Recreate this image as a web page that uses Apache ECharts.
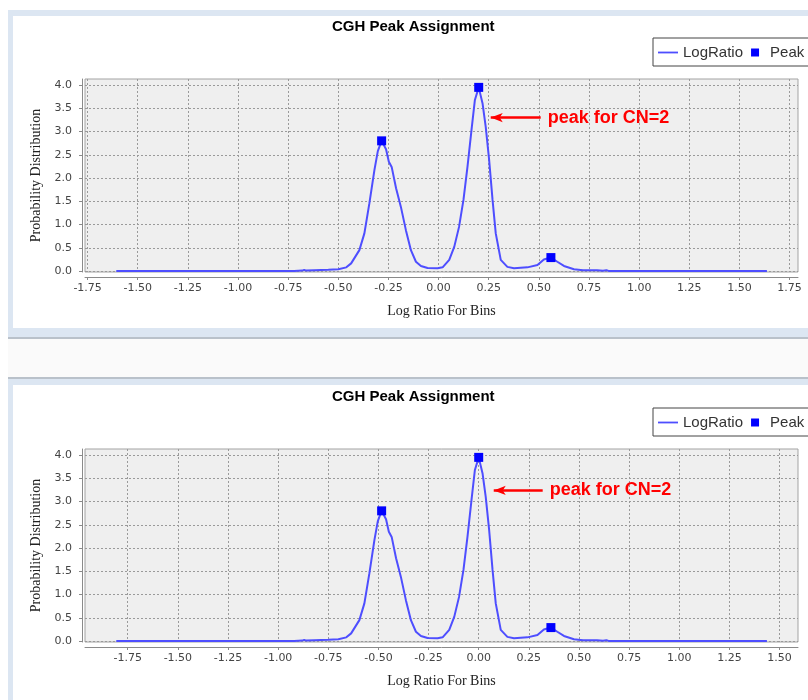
<!DOCTYPE html>
<html><head><meta charset="utf-8">
<script src="https://cdn.jsdelivr.net/npm/echarts@6/dist/echarts.min.js"></script>
<style>html,body{margin:0;padding:0;background:#fff;}#c{width:808px;height:700px;}</style>
</head><body><div id="c"></div><script>
// ---- data ----
const topX = [-1.607,-0.720,-0.680,-0.670,-0.660,-0.620,-0.550,-0.500,-0.460,-0.436,-0.395,-0.370,-0.345,-0.320,-0.303,-0.284,-0.262,-0.248,-0.234,-0.212,-0.188,-0.163,-0.138,-0.113,-0.088,-0.055,-0.005,0.020,0.053,0.078,0.102,0.124,0.144,0.164,0.181,0.200,0.219,0.235,0.252,0.269,0.285,0.310,0.343,0.376,0.443,0.493,0.525,0.560,0.592,0.625,0.675,0.720,0.790,0.820,0.837,0.850,1.637];
const bottomX = [-1.807,-0.920,-0.880,-0.870,-0.860,-0.820,-0.750,-0.700,-0.660,-0.636,-0.595,-0.570,-0.545,-0.520,-0.503,-0.484,-0.462,-0.448,-0.434,-0.412,-0.388,-0.363,-0.338,-0.313,-0.288,-0.255,-0.205,-0.180,-0.147,-0.122,-0.098,-0.076,-0.056,-0.036,-0.019,0.000,0.019,0.035,0.052,0.069,0.085,0.110,0.143,0.176,0.243,0.293,0.325,0.360,0.392,0.425,0.475,0.520,0.590,0.620,0.637,0.650,1.437];
const density = [0,0,0.01,0.025,0.01,0.02,0.03,0.04,0.08,0.165,0.45,0.81,1.46,2.17,2.58,2.80,2.62,2.35,2.24,1.78,1.38,0.88,0.45,0.20,0.11,0.065,0.06,0.08,0.24,0.52,0.95,1.53,2.24,3.03,3.68,3.95,3.61,3.10,2.39,1.53,0.81,0.24,0.09,0.06,0.08,0.13,0.25,0.29,0.20,0.11,0.04,0.02,0.02,0.005,0.02,0,0];
const topPeakX = [-0.284, 0.200, 0.560];
const bottomPeakX = [-0.484, 0.000, 0.360];
const peakY = [2.80, 3.95, 0.29];
const topXTicks = [-1.75,-1.5,-1.25,-1,-0.75,-0.5,-0.25,0,0.25,0.5,0.75,1,1.25,1.5,1.75];
const bottomXTicks = [-1.75,-1.5,-1.25,-1,-0.75,-0.5,-0.25,0,0.25,0.5,0.75,1,1.25,1.5];
const yTicks = [0,0.5,1,1.5,2,2.5,3,3.5,4];
const topArrow = [[0.509, 3.30],[0.260, 3.30]];
const bottomArrow = [[0.319, 3.24],[0.075, 3.24]];
const titleText = 'CGH Peak Assignment';
const annotText = 'peak for CN=2';
const legendNames = ['LogRatio','Peak'];

const chart = echarts.init(document.getElementById('c'), null, {renderer:'canvas'});
const LINE_C = '#4e4eff';
function xAxisOpt(i, min, max, ticks){
  return {gridIndex:i, type:'value', min:min, max:max, offset:5,
    axisLine:{show:true, onZero:false, lineStyle:{color:'#8a8a8a', width:1}},
    axisTick:{show:true, length:3, customValues:ticks, lineStyle:{color:'#8a8a8a'}},
    axisLabel:{customValues:ticks, formatter:v=>Number(v).toFixed(2), margin:6, fontFamily:'DejaVu Sans', fontSize:11, color:'#444'},
    splitLine:{show:true, lineStyle:{color:'#9a9a9a', type:[2,2], width:1}},
    name:'Log Ratio For Bins', nameLocation:'middle', nameGap:27,
    nameTextStyle:{fontFamily:'Liberation Serif', fontSize:14, color:'#222'}};
}
function yAxisOpt(i){
  return {gridIndex:i, type:'value', min:-0.02, max:4.13, offset:3,
    axisLine:{show:true, onZero:false, lineStyle:{color:'#8a8a8a', width:1}},
    axisTick:{show:true, length:3, customValues:yTicks, lineStyle:{color:'#8a8a8a'}},
    axisLabel:{customValues:yTicks, formatter:v=>Number(v).toFixed(1), margin:10, fontFamily:'DejaVu Sans', fontSize:11, color:'#444'},
    splitLine:{show:true, lineStyle:{color:'#9a9a9a', type:[2,2], width:1}},
    name:'Probability Distribution', nameLocation:'middle', nameGap:38,
    nameTextStyle:{fontFamily:'Liberation Serif', fontSize:14, color:'#222'}};
}
function markLineOpt(arrow){
  return {silent:true, animation:false, symbol:['none','arrow'], symbolSize:[7,12],
    lineStyle:{color:'#ff0000', width:2.5, type:'solid'},
    label:{show:true, position:'start', formatter:annotText, color:'#ff0000', fontWeight:'bold', fontSize:18, fontFamily:'Liberation Sans', distance:7},
    data:[[{coord:arrow[0]},{coord:arrow[1]}]]};
}
function lineSeries(i, xs, arrow){
  return {name:'LogRatio', type:'line', xAxisIndex:i, yAxisIndex:i,
    data: xs.map((x,k)=>[x, density[k]]), symbol:'none', showSymbol:false, smooth:false,
    lineStyle:{color:LINE_C, width:2}, itemStyle:{color:LINE_C}, z:3, animation:false,
    markLine: markLineOpt(arrow)};
}
function peakSeries(i, xs){
  return {name:'Peak', type:'scatter', xAxisIndex:i, yAxisIndex:i,
    data: xs.map((x,k)=>[x, peakY[k]]), symbol:'rect', symbolSize:9,
    itemStyle:{color:'#0000ff', opacity:1}, z:4, animation:false};
}
function legendOpt(top){
  return {
    data:[
      {name:legendNames[0], icon:'path://M0 0 H20 V1.8 H0 Z', itemStyle:{color:LINE_C}},
      {name:legendNames[1], icon:'path://M0 0 H8 V8 H0 Z', itemStyle:{color:'#0000ff', opacity:1}}
    ],
    left:653, top:top, width:220, orient:'horizontal', symbolKeepAspect:true,
    itemWidth:20, itemHeight:8, itemGap:8, itemTextGap:2, padding:[7,5,6,5],
    borderColor:'#444', borderWidth:1, backgroundColor:'#fff',
    textStyle:{fontFamily:'Liberation Sans', fontSize:15, color:'#333'}};
}
const bg = '#dce6f2';
const option = {
  animation:false,
  backgroundColor:'#ffffff',
  graphic:[
    {type:'rect', z:-10, silent:true, shape:{x:8,y:10,width:900,height:327}, style:{fill:bg}},
    {type:'rect', z:-9, silent:true, shape:{x:13,y:16,width:900,height:312}, style:{fill:'#ffffff'}},
    {type:'rect', z:-9, silent:true, shape:{x:8,y:337,width:900,height:2}, style:{fill:'#b9c1ca'}},
    {type:'rect', z:-9, silent:true, shape:{x:8,y:339,width:900,height:38}, style:{fill:'#fafafa'}},
    {type:'rect', z:-9, silent:true, shape:{x:8,y:377,width:900,height:2}, style:{fill:'#b9c1ca'}},
    {type:'rect', z:-9, silent:true, shape:{x:8,y:379,width:900,height:330}, style:{fill:bg}},
    {type:'rect', z:-8, silent:true, shape:{x:13,y:385,width:900,height:330}, style:{fill:'#ffffff'}}
  ],
  title:[
    {text:titleText, left:332, top:19, padding:0, textStyle:{fontFamily:'Liberation Sans', fontWeight:'bold', fontSize:15, color:'#000'}},
    {text:titleText, left:332, top:389, padding:0, textStyle:{fontFamily:'Liberation Sans', fontWeight:'bold', fontSize:15, color:'#000'}}
  ],
  legend:[legendOpt(38), legendOpt(408)],
  grid:[
    {left:85, top:79, width:713, height:193, show:true, backgroundColor:'#efefef', borderColor:'#a3a3a3', borderWidth:1},
    {left:85, top:449, width:713, height:193, show:true, backgroundColor:'#efefef', borderColor:'#a3a3a3', borderWidth:1}
  ],
  xAxis:[xAxisOpt(0,-1.763,1.792,topXTicks), xAxisOpt(1,-1.963,1.592,bottomXTicks)],
  yAxis:[yAxisOpt(0), yAxisOpt(1)],
  series:[lineSeries(0,topX,topArrow), peakSeries(0,topPeakX), lineSeries(1,bottomX,bottomArrow), peakSeries(1,bottomPeakX)]
};
chart.setOption(option);
</script></body></html>
